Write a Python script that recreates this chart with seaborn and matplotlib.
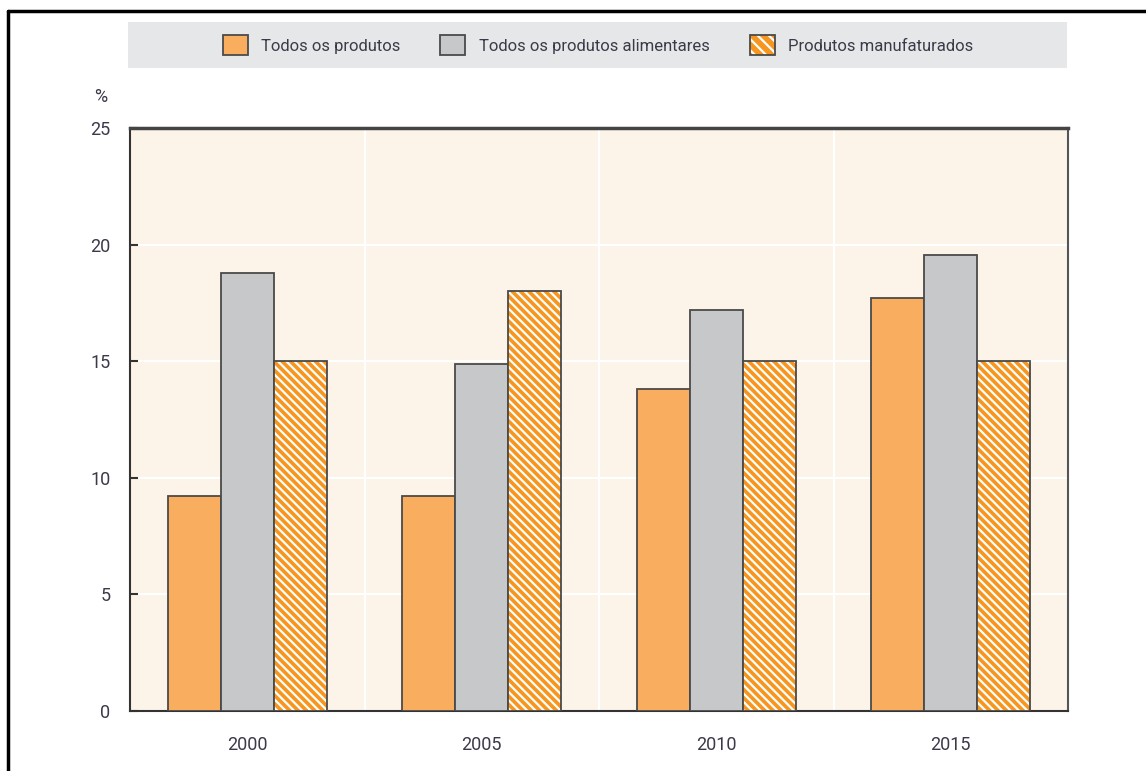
import matplotlib
matplotlib.use("Agg")
import matplotlib.pyplot as plt
from matplotlib.patches import Rectangle
from matplotlib.lines import Line2D
from matplotlib.legend_handler import HandlerTuple
import seaborn as sns
import pandas as pd
from matplotlib import font_manager

years = ["2000", "2005", "2010", "2015"]
series_names = ["Todos os produtos", "Todos os produtos alimentares", "Produtos manufaturados"]
todos = [9.2, 9.2, 13.8, 17.7]
alimentares = [18.8, 14.9, 17.2, 19.55]
manufaturados = [15.0, 18.0, 15.0, 15.0]
yticks = [0, 5, 10, 15, 20, 25]

sns.set_theme(style="white")
names = {f.name for f in font_manager.fontManager.ttflist}
fam = "Liberation Sans Narrow" if "Liberation Sans Narrow" in names else "Roboto"
plt.rcParams["font.family"] = [fam, "DejaVu Sans"]
plt.rcParams["hatch.linewidth"] = 1.6

df = pd.DataFrame({
    "year": years * 3,
    "value": todos + alimentares + manufaturados,
    "series": [series_names[0]] * 4 + [series_names[1]] * 4 + [series_names[2]] * 4,
})

c_orange = "#F9AE5F"
c_gray = "#C7C8CA"
c_hatch = "#F7961F"
edge = "#4a4a4a"
txt = "#3a3a4a"
bg = "#FDF4E9"
hatch = "\\\\\\\\"

fig = plt.figure(figsize=(11.46, 7.71), dpi=100)
ax = fig.add_axes([130 / 1146, 1 - 711 / 771, (1068 - 130) / 1146, (711 - 128) / 771])
ax.set_facecolor(bg)

sns.barplot(data=df, x="year", y="value", hue="series", hue_order=series_names,
            palette=[c_orange, c_gray, c_hatch], width=0.68, gap=0,
            edgecolor=edge, linewidth=1.3, saturation=1, ax=ax, legend=False, zorder=3)

# hatched series: white stripes on orange, dark outline
for p in ax.patches[8:12]:
    p.set_hatch(hatch)
    p.set_edgecolor("white")
    p.set_linewidth(0)
    ax.add_patch(Rectangle(p.get_xy(), p.get_width(), p.get_height(), fill=False,
                           edgecolor=edge, linewidth=1.3, zorder=4))

ax.set_xlim(-0.5, 3.5)
ax.set_ylim(0, 25)
ax.set_yticks(yticks)
ax.set_yticklabels([str(v) for v in yticks])
ax.set_xlabel("")
ax.set_ylabel("")
ax.set_xticks([0.5, 1.5, 2.5], minor=True)
ax.grid(axis="y", which="major", color="white", linewidth=1.5, zorder=0)
ax.grid(axis="x", which="minor", color="white", linewidth=1.5, zorder=0)
ax.grid(axis="x", which="major", visible=False)
ax.set_axisbelow(True)
ax.tick_params(axis="x", which="major", length=0, labelsize=13, labelcolor=txt, pad=18)
ax.tick_params(axis="x", which="minor", length=10, width=1.5, direction="in", color="#333333")
ax.tick_params(axis="y", length=6, width=1.5, direction="in", labelsize=13, labelcolor=txt,
               pad=14, color="#333333", left=True)
for s in ax.spines.values():
    s.set_visible(True)
    s.set_color("#555555")
    s.set_linewidth(1.5)
ax.spines["top"].set_linewidth(2.5)
ax.spines["top"].set_color("#444444")
ax.spines["left"].set_color("#333333")
ax.spines["bottom"].set_color("#333333")

fig.text(101 / 1146, 1 - 97 / 771, "%", fontsize=13, color=txt, ha="center", va="center")

# legend band
fig.patches.append(Rectangle((128 / 1146, 1 - 68 / 771), (1067 - 128) / 1146, 46 / 771,
                             transform=fig.transFigure, facecolor="#E6E7E8",
                             edgecolor="none", zorder=0))
handles = [
    Rectangle((0, 0), 1, 1, facecolor=c_orange, edgecolor=edge, linewidth=1.3),
    Rectangle((0, 0), 1, 1, facecolor=c_gray, edgecolor=edge, linewidth=1.3),
    (Rectangle((0, 0), 1, 1, facecolor=c_hatch, edgecolor="white", linewidth=0, hatch="\\\\\\"),
     Rectangle((0, 0), 1, 1, fill=False, edgecolor=edge, linewidth=1.3)),
]
leg = fig.legend(handles, series_names, loc="center", bbox_to_anchor=(598 / 1146, 1 - 45 / 771),
                 ncol=3, frameon=False, fontsize=12, handlelength=1.5, handleheight=1.4,
                 handletextpad=0.8, columnspacing=2.4, labelcolor=txt,
                 handler_map={tuple: HandlerTuple(ndivide=1, pad=0)})

# figure border (top and left)
fig.add_artist(Line2D([8 / 1146, 1], [1 - 11 / 771, 1 - 11 / 771], transform=fig.transFigure,
                      color="black", linewidth=2.5))
fig.add_artist(Line2D([8 / 1146, 8 / 1146], [0, 1 - 11 / 771], transform=fig.transFigure,
                      color="black", linewidth=2.5))

fig.savefig("out.png", dpi=100)
